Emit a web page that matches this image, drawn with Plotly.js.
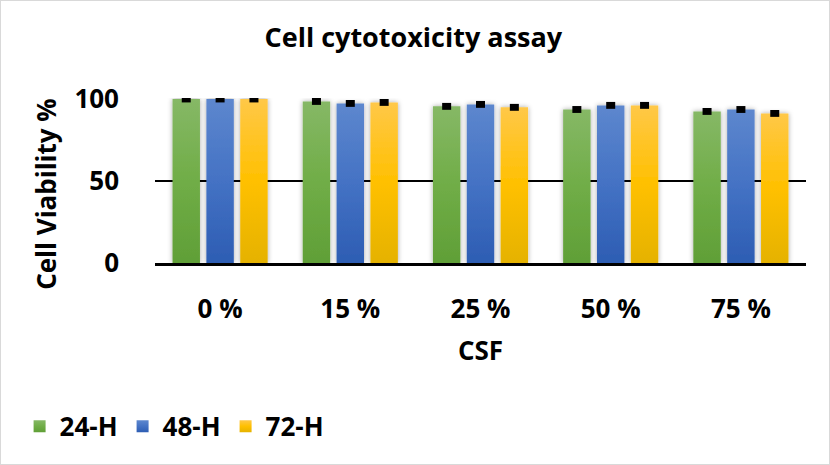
<!DOCTYPE html>
<html>
<head>
<meta charset="utf-8">
<script src="https://cdn.plot.ly/plotly-3.0.1.min.js"></script>
<style>
  html, body { margin: 0; padding: 0; background: #fff; }
  #wrap { position: relative; width: 830px; height: 465px; }
  #chart { width: 830px; height: 465px; }
  #frame { position: absolute; left: 0; top: 0; width: 830px; height: 465px; box-sizing: border-box; border: 1px solid #d9d9d9; pointer-events: none; }
</style>
</head>
<body>
<div id="wrap"><div id="chart"></div><div id="frame"></div></div>
<script>
// Data
const categories = ["0 %", "15 %", "25 %", "50 %", "75 %"];
const seriesNames = ["24-H", "48-H", "72-H"];
const h24 = [100, 98.5, 95.5, 93.6, 92.4];
const h48 = [100, 97.3, 96.7, 96.1, 93.6];
const h72 = [100, 97.9, 94.9, 96.1, 91.2];
const err24 = [2.1, 2.1, 2.1, 2.1, 2.1];
const err48 = [2.1, 2.1, 2.1, 2.1, 2.1];
const err72 = [2.1, 2.1, 2.1, 2.1, 2.1];
const yTicks = [0, 50, 100];

const colors = ["#70AD47", "#4472C4", "#FFC000"];
const gradStops = [
  ["#86B866", "#70AD47", "#609F37"],
  ["#5D87CE", "#4472C4", "#2D5DB3"],
  ["#FFC848", "#FFC000", "#E5B200"]
];
const FONT = "'Open Sans', 'Noto Sans', sans-serif";

const vals = [h24, h48, h72];
const errs = [err24, err48, err72];
const traces = vals.map((v, i) => ({
  type: "bar",
  name: seriesNames[i],
  x: categories,
  y: v,
  marker: { color: colors[i], line: { width: 0 } },
  error_y: { type: "data", array: errs[i], visible: true, color: "#000", thickness: 9, width: 0 },
  cliponaxis: false,
  hoverinfo: "x+y"
}));

const layout = {
  width: 830, height: 465,
  margin: { l: 155, r: 24, t: 98, b: 202 },
  paper_bgcolor: "#fff", plot_bgcolor: "#fff",
  font: { family: FONT, color: "#000", size: 26, weight: "bold" },
  barmode: "group",
  bargap: 0.22,
  bargroupgap: 0.19,
  showlegend: true,
  legend: {
    orientation: "h", x: -0.208, xanchor: "left", y: -0.99, yanchor: "middle",
    font: { family: FONT, size: 26, color: "#000", weight: "bold" },
    itemwidth: 30, tracegroupgap: 0
  },
  title: {
    text: "<b>Cell cytotoxicity assay</b>",
    font: { family: FONT, size: 27, color: "#000" },
    x: 0.498, xanchor: "center", xref: "container", y: 0.92, yanchor: "middle", yref: "container"
  },
  xaxis: {
    type: "category",
    showline: true, linecolor: "#000", linewidth: 3,
    ticks: "", showgrid: false, zeroline: false,
    tickfont: { family: FONT, size: 26, color: "#000", weight: "bold" },
    ticklabelstandoff: 21,
    title: { text: "<b>CSF</b>", font: { family: FONT, size: 26, color: "#000" }, standoff: 17 }
  },
  yaxis: {
    range: [0, 100.6], tickvals: yTicks, ticktext: yTicks.map(String),
    showline: false, ticks: "", zeroline: false,
    showgrid: true, gridcolor: "#000", gridwidth: 2,
    tickfont: { family: FONT, size: 26, color: "#000", weight: "bold" },
    ticklabelstandoff: 35,
    title: { text: "<b>Cell Viability %&nbsp;&nbsp;&nbsp;&nbsp;</b>", font: { family: FONT, size: 26, color: "#000" }, standoff: 10 }
  }
};

Plotly.newPlot("chart", traces, layout, { displayModeBar: false, staticPlot: true }).then(gd => {
  const svg = gd.querySelector("svg.main-svg");
  const NS = "http://www.w3.org/2000/svg";
  let defs = svg.querySelector("defs");
  if (!defs) { defs = document.createElementNS(NS, "defs"); svg.insertBefore(defs, svg.firstChild); }
  gradStops.forEach((st, i) => {
    const g = document.createElementNS(NS, "linearGradient");
    g.setAttribute("id", "bargrad" + i);
    g.setAttribute("x1", "0"); g.setAttribute("y1", "0");
    g.setAttribute("x2", "0"); g.setAttribute("y2", "1");
    [[0, st[0]], [0.5, st[1]], [1, st[2]]].forEach(([o, c]) => {
      const s = document.createElementNS(NS, "stop");
      s.setAttribute("offset", o); s.setAttribute("stop-color", c);
      g.appendChild(s);
    });
    defs.appendChild(g);
  });
  const f = document.createElementNS(NS, "filter");
  f.setAttribute("id", "barshadow");
  f.setAttribute("x", "-40%"); f.setAttribute("y", "-5%");
  f.setAttribute("width", "180%"); f.setAttribute("height", "110%");
  const ds = document.createElementNS(NS, "feDropShadow");
  ds.setAttribute("dx", "0"); ds.setAttribute("dy", "0");
  ds.setAttribute("stdDeviation", "2.5");
  ds.setAttribute("flood-color", "#000"); ds.setAttribute("flood-opacity", "0.35");
  f.appendChild(ds);
  defs.appendChild(f);
  gd.querySelectorAll(".barlayer .trace").forEach((tr, i) => {
    tr.querySelectorAll(".point path").forEach(p => {
      p.style.fill = "url(#bargrad" + i + ")";
      p.setAttribute("filter", "url(#barshadow)");
    });
  });
  gd.querySelectorAll(".legend .traces").forEach((tr, i) => {
    tr.querySelectorAll(".legendpoints path").forEach(p => { p.style.fill = "url(#bargrad" + i + ")"; });
  });
});
</script>
</body>
</html>
